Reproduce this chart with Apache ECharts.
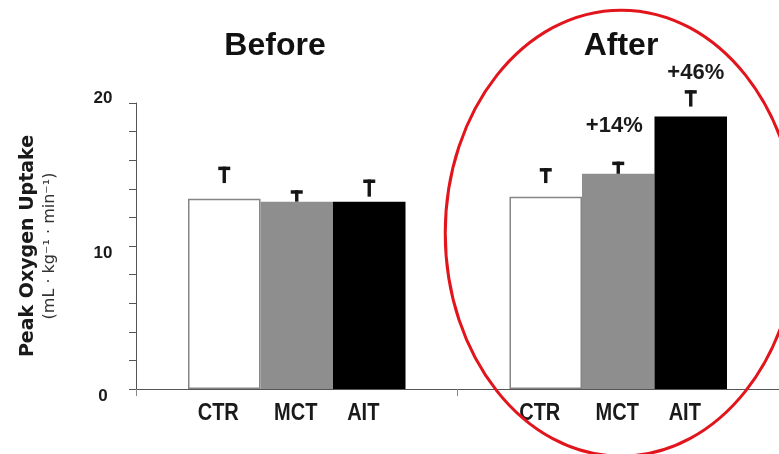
<!DOCTYPE html>
<html>
<head>
<meta charset="utf-8">
<script src="https://cdn.jsdelivr.net/npm/echarts@6/dist/echarts.min.js"></script>
<style>html,body{margin:0;padding:0;background:#fff}#c{width:779px;height:454px}</style>
</head>
<body>
<div id="c"></div>
<script>
// ---- data ----
const groups = ['Before', 'After'];
const subgroups = ['CTR', 'MCT', 'AIT'];
const ctrValues = [13.3, 13.45];
const mctValues = [13.1, 15.05];
const aitValues = [13.1, 19.05];
// error bar marks (stem bottom, cap top)
const ctrErrLow = [14.4, 14.4];
const ctrErrHigh = [15.55, 15.45];
const mctErrLow = [13.1, 15.05];
const mctErrHigh = [13.9, 15.9];
const aitErrLow = [13.45, 19.75];
const aitErrHigh = [14.65, 20.9];
// change annotations (After group)
const ctrChange = ['', ''];
const mctChange = ['', '+14%'];
const aitChange = ['', '+46%'];
const yTicks = [0, 10, 20];

const SANS = "'Liberation Sans',Arial,sans-serif";
const barW = 72.5;

const values = [ctrValues, mctValues, aitValues];
const errLows = [ctrErrLow, mctErrLow, aitErrLow];
const errHighs = [ctrErrHigh, mctErrHigh, aitErrHigh];
const changes = [ctrChange, mctChange, aitChange];
const changeOffsets = [[0, 0], [-4, -36], [5, -17]];
const barStyles = [
  { color: '#ffffff', borderColor: '#858585', borderWidth: 1.5 },
  { color: '#8e8e8e' },
  { color: '#000000' }
];
const labelShift = [-6, -1, -6];

const series = [];
subgroups.forEach((name, i) => {
  series.push({
    type: 'bar', name: name, data: values[i], barWidth: barW, barGap: '0%',
    itemStyle: barStyles[i], silent: true
  });
});
subgroups.forEach((name, i) => {
  series.push({
    type: 'custom', name: name + ' err', clip: false, silent: true, z: 5,
    data: groups.map((g, k) => [k, errLows[i][k], errHighs[i][k]]),
    encode: { x: 0, y: [1, 2] },
    renderItem: function (params, api) {
      const k = api.value(0);
      const base = api.coord([k, 0]);
      const x = base[0] + (i - 1) * barW;
      const yLo = api.coord([k, api.value(1)])[1];
      const yHi = api.coord([k, api.value(2)])[1];
      const children = [
        { type: 'rect', shape: { x: x - 6, y: yHi, width: 12, height: 3.5 }, style: { fill: '#151515' } },
        { type: 'rect', shape: { x: x - 1.7, y: yHi, width: 3.4, height: yLo - yHi }, style: { fill: '#151515' } },
        {
          type: 'text', x: x + labelShift[i], y: base[1] + 24, scaleY: 1.18,
          style: {
            text: name, x: 0, y: 0, align: 'center', verticalAlign: 'middle',
            font: 'bold 20px ' + SANS, fill: '#1a1a1a'
          }
        }
      ];
      const txt = changes[i][params.dataIndex];
      if (txt) {
        children.push({
          type: 'text',
          style: {
            text: txt, x: x + changeOffsets[i][0], y: yHi + changeOffsets[i][1],
            align: 'center', verticalAlign: 'middle',
            font: 'bold 22px ' + SANS, fill: '#1a1a1a'
          }
        });
      }
      return { type: 'group', children: children };
    }
  });
});

const chart = echarts.init(document.getElementById('c'), null, { renderer: 'canvas' });
const option = {
  animation: false,
  backgroundColor: '#ffffff',
  title: [
    { text: 'Before', left: 275, top: 30, textAlign: 'center', padding: 0,
      textStyle: { fontFamily: SANS, fontWeight: 'bold', fontSize: 32, color: '#111' } },
    { text: 'After', left: 621, top: 30, textAlign: 'center', padding: 0,
      textStyle: { fontFamily: SANS, fontWeight: 'bold', fontSize: 32, color: '#111' } }
  ],
  grid: { left: 136, top: 103, width: 647, height: 286, containLabel: false },
  xAxis: {
    type: 'category', data: groups,
    axisLine: { lineStyle: { color: '#555', width: 1 } },
    axisTick: { show: true, length: 7, lineStyle: { color: '#888' } },
    axisLabel: { show: false },
    splitLine: { show: false }
  },
  yAxis: {
    type: 'value', min: 0, max: 20, interval: 2,
    axisLine: { show: true, lineStyle: { color: '#555', width: 1 } },
    axisTick: { show: true, length: 7, lineStyle: { color: '#555' } },
    splitLine: { show: false },
    axisLabel: {
      margin: 33, align: 'center',
      formatter: v => (v === 20 ? '{t|' + v + '}' : (yTicks.indexOf(v) >= 0 ? '{b|' + v + '}' : '')),
      rich: {
        t: { fontFamily: SANS, fontWeight: 'bold', fontSize: 17, color: '#1a1a1a', padding: [0, 0, 10, 0] },
        b: { fontFamily: SANS, fontWeight: 'bold', fontSize: 17, color: '#1a1a1a', padding: [14, 0, 0, 0] }
      }
    },
    name: '{a|Peak Oxygen Uptake}\n{b|(mL · kg⁻¹ · min⁻¹)}',
    nameLocation: 'middle', nameGap: 76,
    nameTextStyle: {
      rich: {
        a: { fontFamily: "'DejaVu Sans',sans-serif", fontWeight: 'bold', fontSize: 19, color: '#1a1a1a', lineHeight: 21 },
        b: { fontFamily: "'DejaVu Sans',sans-serif", fontSize: 16, color: '#333', lineHeight: 21 }
      }
    }
  },
  series: series
};
chart.setOption(option);
const afterX = chart.convertToPixel({ xAxisIndex: 0 }, 'After');
const midY = chart.convertToPixel({ yAxisIndex: 0 }, 10.9);
chart.setOption({
  graphic: [{
    type: 'ellipse', z: 100, silent: true,
    shape: { cx: afterX + 3, cy: midY, rx: 176, ry: 223 },
    style: { fill: 'none', stroke: '#e2141c', lineWidth: 3 }
  }]
});
</script>
</body>
</html>
